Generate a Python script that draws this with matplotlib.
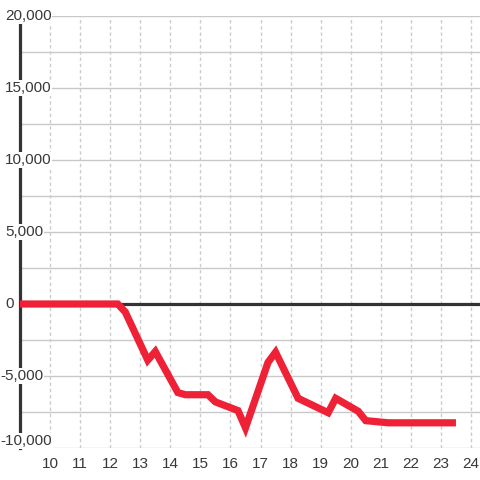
import matplotlib
matplotlib.use("Agg")
import matplotlib.pyplot as plt

# Data
hours = [9.0, 12.25, 12.5, 13.25, 13.5, 14.25, 14.5, 15.25, 15.5, 16.25, 16.5,
         17.25, 17.5, 18.25, 19.25, 19.5, 20.25, 20.5, 21.25, 22.0, 23.0, 23.5]
values = [0, 0, -550, -3900, -3300, -6150, -6300, -6300, -6800, -7400, -8600,
          -4050, -3350, -6550, -7550, -6550, -7450, -8100, -8250, -8250, -8250, -8250]

x_ticks = list(range(10, 25))
x_tick_labels = [str(t) for t in x_ticks]
y_ticks = [-10000, -5000, 0, 5000, 10000, 15000, 20000]
y_tick_labels = ["-10,000", "-5,000", "0", "5,000", "10,000", "15,000", "20,000"]
y_minor = [-7500, -2500, 2500, 7500, 12500, 17500]

plt.rcParams['font.family'] = ['Liberation Sans', 'DejaVu Sans']

fig = plt.figure(figsize=(4.8, 4.8), dpi=100)
fig.patch.set_facecolor('white')
ax = fig.add_axes([20/480, 32/480, 460/480, 432/480])
ax.set_facecolor('white')
ax.set_xlim(9, 24.3)
ax.set_ylim(-10000, 20000)

for s in ['top', 'right', 'bottom']:
    ax.spines[s].set_visible(False)
ax.spines['left'].set_color('#333333')
ax.spines['left'].set_linewidth(2.3)
ax.spines['left'].set_zorder(3)
ax.set_xticks([])
ax.set_yticks([])

# grid
for y in y_ticks + y_minor:
    if y == 0:
        continue
    ax.axhline(y, color='#c8c8c8', lw=1, zorder=1)
for x in x_ticks:
    ax.axvline(x, color='#cccccc', lw=1, ls=(0, (2.5, 2)), zorder=1)
ax.axhline(0, color='#333333', lw=2.3, zorder=2)

ax.plot(hours, values, color='#ee2137', lw=5.2, solid_joinstyle='miter',
        solid_capstyle='butt', zorder=6, clip_on=False)

for y, lab in zip(y_ticks, y_tick_labels):
    va = 'bottom' if y == -10000 else 'center'
    xpx = 1.5 if lab.startswith('-') else 6.0
    xd = 10 + (xpx - 51) / 30
    ax.text(xd, y, lab, ha='left', va=va, fontsize=11, color='#383838',
            zorder=5, clip_on=False,
            bbox=dict(facecolor='white', edgecolor='none', pad=0.5))

for x, lab in zip(x_ticks, x_tick_labels):
    ax.text(x, -10600, lab, ha='center', va='top', fontsize=11, color='#383838',
            clip_on=False)

fig.savefig('out.png', dpi=100, facecolor='white')
